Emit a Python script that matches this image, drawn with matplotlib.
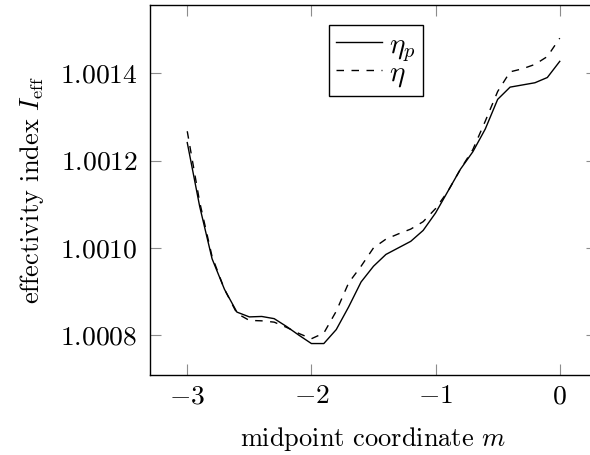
import matplotlib
matplotlib.use("Agg")
import matplotlib.pyplot as plt
import numpy as np

x = [-3.0, -2.9, -2.8, -2.7, -2.6, -2.5, -2.4, -2.3, -2.2, -2.1, -2.0,
     -1.9, -1.8, -1.7, -1.6, -1.5, -1.4, -1.3, -1.2, -1.1, -1.0,
     -0.9, -0.8, -0.7, -0.6, -0.5, -0.4, -0.3, -0.2, -0.1, 0.0]

eta_p = [1.001241, 1.001095, 1.000975, 1.000905, 1.000853, 1.000842, 1.000843,
         1.000838, 1.000820, 1.000800, 1.000781, 1.000781, 1.000813, 1.000865,
         1.000922, 1.000958, 1.000985, 1.001000, 1.001015, 1.001040, 1.001080,
         1.001130, 1.001180, 1.001220, 1.001272, 1.001340, 1.001368, 1.001373,
         1.001378, 1.001390, 1.001427]

eta = [1.001267, 1.001105, 1.000980, 1.000905, 1.000850, 1.000834, 1.000833,
       1.000830, 1.000818, 1.000804, 1.000792, 1.000805, 1.000855, 1.000920,
       1.000958, 1.001000, 1.001020, 1.001032, 1.001043, 1.001060, 1.001090,
       1.001130, 1.001180, 1.001225, 1.001290, 1.001358, 1.001403, 1.001410,
       1.001420, 1.001438, 1.001480]

xticks = [-3, -2, -1, 0]
xtick_labels = [r"$-3$", r"$-2$", r"$-1$", r"$0$"]
yticks = [1.0008, 1.0010, 1.0012, 1.0014]
ytick_labels = [r"$1.0008$", r"$1.0010$", r"$1.0012$", r"$1.0014$"]

plt.rcParams["mathtext.fontset"] = "cm"
plt.rcParams["font.family"] = ["cmr10", "DejaVu Serif"]

W, H = 590, 455
fig = plt.figure(figsize=(W / 100, H / 100), dpi=100)
# axes box in pixels: left 150, right 597 (cropped), top 5, bottom 375
ax = fig.add_axes([150 / W, (H - 375) / H, (597 - 150) / W, 370 / H])

ax.plot(x, eta_p, color="black", lw=1.0, label=r"$\eta_p$")
ax.plot(x, eta, color="black", lw=1.0, dashes=(5.4, 5.4), label=r"$\eta$")

ax.set_xlim(-3.3, 0.3)
ax.set_ylim(1.000709, 1.001556)
ax.set_xticks(xticks)
ax.set_xticklabels(xtick_labels)
ax.set_yticks(yticks)
ax.set_yticklabels(ytick_labels)
ax.tick_params(direction="in", length=8, width=0.8, color="0.55",
               top=True, right=True, labelsize=19.8)
ax.tick_params(axis="y", pad=9)
ax.tick_params(axis="x", pad=7)
for s in ax.spines.values():
    s.set_linewidth(1.0)

ax.set_xlabel(r"midpoint coordinate $m$", fontsize=19, labelpad=12)
ax.set_ylabel(r"effectivity index $I_{\mathrm{eff}}$", fontsize=19, labelpad=10)

leg = ax.legend(loc="upper left", bbox_to_anchor=(329 / W, 1 - 25 / H),
                bbox_transform=fig.transFigure, borderaxespad=0,
                fancybox=False, framealpha=1, edgecolor="black",
                fontsize=21, handlelength=1.55, handletextpad=0.25,
                labelspacing=-0.12, borderpad=0.25)
leg.get_frame().set_linewidth(1.0)

fig.savefig("out.png", dpi=100)
